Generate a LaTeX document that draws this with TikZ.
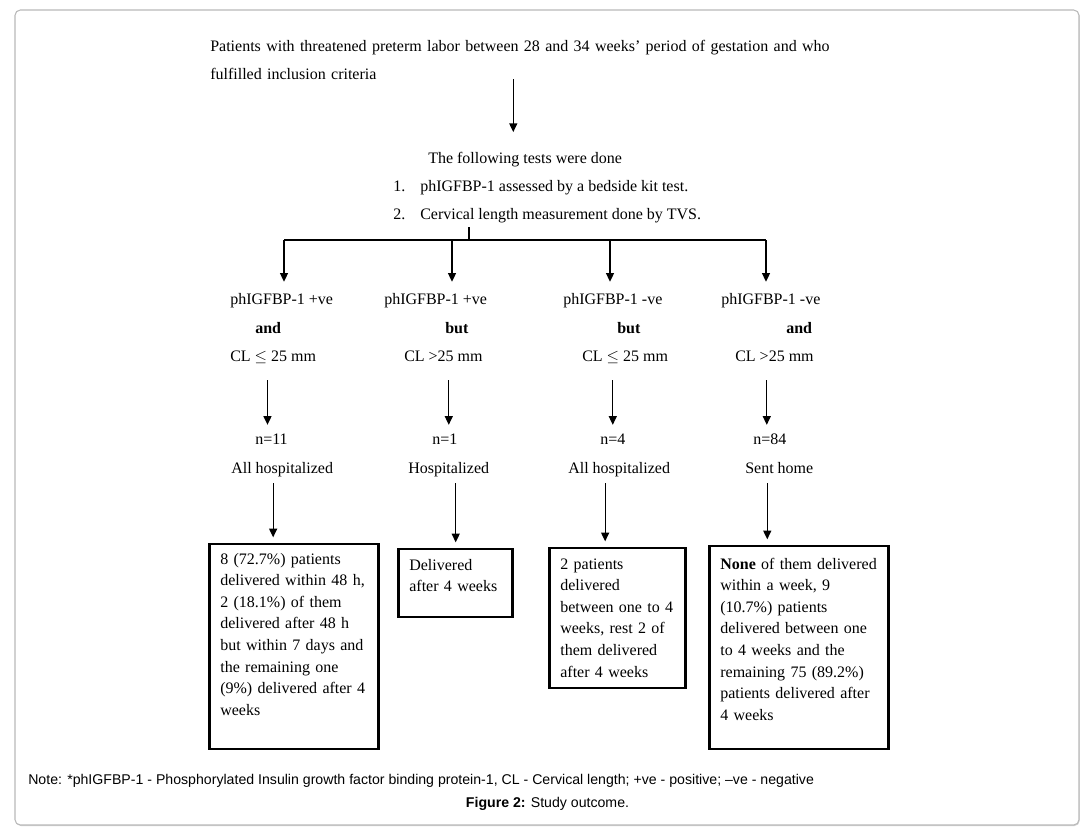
\documentclass[tikz,border=0pt]{standalone}
\usepackage{fontspec}
\setmainfont{Liberation Serif}
\newfontfamily\notefont{Liberation Sans}
\usepackage{tikz}
\usetikzlibrary{arrows.meta, positioning, calc, shadows}
\tikzset{
  txt/.style={
    inner sep=0pt, anchor=base west, text height=8pt, text depth=2pt,
    font=\fontsize{12pt}{14pt}\selectfont
  },
  conj/.style={txt, font=\fontsize{12pt}{14pt}\selectfont\bfseries},
  outcome/.style={
    draw=black, line width=2pt, anchor=base west,
    inner xsep=8.25pt, inner ysep=0pt, align=left,
    font=\fontsize{12pt}{16.2pt}\selectfont
  },
  arrow/.style={-{Triangle[width=6pt,length=6.5pt]}, line width=0.9pt},
  outerframe/.style={
    draw=gray!55, line width=0.8pt, rounded corners=4pt, fill=white,
    drop shadow={shadow xshift=0.5pt, shadow yshift=-0.8pt, fill=gray!70, opacity=0.5}
  }
}

\begin{document}
\begin{tikzpicture}[x=0.75pt, y=-0.75pt]
  \useasboundingbox (0,0) rectangle (1087,835);
  \draw[outerframe] (15,10) rectangle (1079,825);

  % inclusion and tests
  \node[inner sep=0pt, anchor=base west, text width=480pt, align=left,
        font=\fontsize{12pt}{21pt}\selectfont] (incl) at (210,51)
    {Patients with threatened preterm labor between 28 and 34 weeks’ period of gestation and who\\
     fulfilled inclusion criteria};
  \node[txt] (t0) at (428,163) {The following tests were done};
  \node[txt] (t1) at (393,191) {\makebox[20.25pt][l]{1.}phIGFBP-1 assessed by a bedside kit test.};
  \node[txt] (t2) at (393,219) {\makebox[20.25pt][l]{2.}Cervical length measurement done by TVS.};

  \draw[arrow, shorten >=15pt] ($(incl.south)+(-17,0)$) -- ($(incl.south |- t0.north)+(-17,0)$);

  % branches
  \coordinate (split) at (469,240);
  \coordinate (b1) at (284,240);
  \coordinate (b2) at (452,240);
  \coordinate (b3) at (610,240);
  \coordinate (b4) at (766,240);
  \draw[line width=0.9pt, shorten <=4pt] (split |- t2.south) -- (split);
  \draw[line width=0.9pt] (b1) -- (b4);

  % groups
  \node[txt] (lab1) at (230,304) {phIGFBP-1 +ve};
  \node[conj] (cond1) at (255,333) {and};
  \node[txt] (cl1) at (230,361) {CL $\leq$ 25 mm};

  \node[txt] (lab2) at (384,304) {phIGFBP-1 +ve};
  \node[conj] (cond2) at (445,333) {but};
  \node[txt] (cl2) at (404,361) {CL >25 mm};

  \node[txt] (lab3) at (563,304) {phIGFBP-1 -ve};
  \node[conj] (cond3) at (617,333) {but};
  \node[txt] (cl3) at (582,361) {CL $\leq$ 25 mm};

  \node[txt] (lab4) at (721,304) {phIGFBP-1 -ve};
  \node[conj] (cond4) at (786,333) {and};
  \node[txt] (cl4) at (735,361) {CL >25 mm};

  \foreach \i in {1,...,4}
    \draw[arrow, shorten >=8.5pt] (b\i) -- (b\i |- lab\i.north);

  % counts
  \node[txt] (n1) at (255,444) {n=11};
  \node[txt] (n2) at (432,444) {n=1};
  \node[txt] (n3) at (600,444) {n=4};
  \node[txt] (n4) at (753,444) {n=84};
  \node[txt] (h1) at (231,473) {All hospitalized};
  \node[txt] (h2) at (408,473) {Hospitalized};
  \node[txt] (h3) at (568,473) {All hospitalized};
  \node[txt] (h4) at (745,473) {Sent home};

  \foreach \i/\s in {1/-4, 2/4, 3/0, 4/-3}
    \draw[arrow, shorten <=12.2pt, shorten >=6.2pt]
      ($(cl\i.south -| n\i.north)+(\s,0)$) -- ($(n\i.north)+(\s,0)$);

  % outcomes
  \node[outcome, text width=110.25pt, text height=15pt, text depth=138.75pt] (box1) at (208,564)
    {8 (72.7\%) patients\\ delivered within 48 h,\\ 2 (18.1\%) of them\\ delivered after 48 h\\
     but within 7 days and\\ the remaining one\\ (9\%) delivered after 4\\ weeks};
  \node[outcome, text width=69pt, text height=15.75pt, text depth=35.25pt] (box2) at (397,570)
    {Delivered\\ after 4 weeks};
  \node[outcome, text width=85.5pt, text height=15.75pt, text depth=89.25pt] (box3) at (548,569)
    {2 patients\\ delivered\\ between one to 4\\ weeks, rest 2 of\\ them delivered\\ after 4 weeks};
  \node[outcome, text width=117.75pt, text height=17.25pt, text depth=135pt] (box4) at (708,569)
    {\textbf{None} of them delivered\\ within a week, 9\\ (10.7\%) patients\\ delivered between one\\
     to 4 weeks and the\\ remaining 75 (89.2\%)\\ patients delivered after\\ 4 weeks};

  \foreach \i/\s in {1/-9, 2/7, 3/-14, 4/-12}
    \draw[arrow, shorten <=5.5pt, shorten >=4pt]
      ($(h\i.south)+(\s,0)$) -- ($(h\i.south |- box\i.north)+(\s,0)$);

  % note and caption
  \node[inner sep=0pt, anchor=base west, font=\notefont\fontsize{10.6pt}{12pt}\selectfont] (note) at (28,784)
    {Note: *phIGFBP-1 - Phosphorylated Insulin growth factor binding protein-1, CL - Cervical length; +ve - positive; –ve - negative};
  \node[inner sep=0pt, anchor=base, font=\notefont\fontsize{10.6pt}{12pt}\selectfont] (caption) at (547.5,807)
    {\textbf{Figure 2:} Study outcome.};
\end{tikzpicture}
\end{document}
